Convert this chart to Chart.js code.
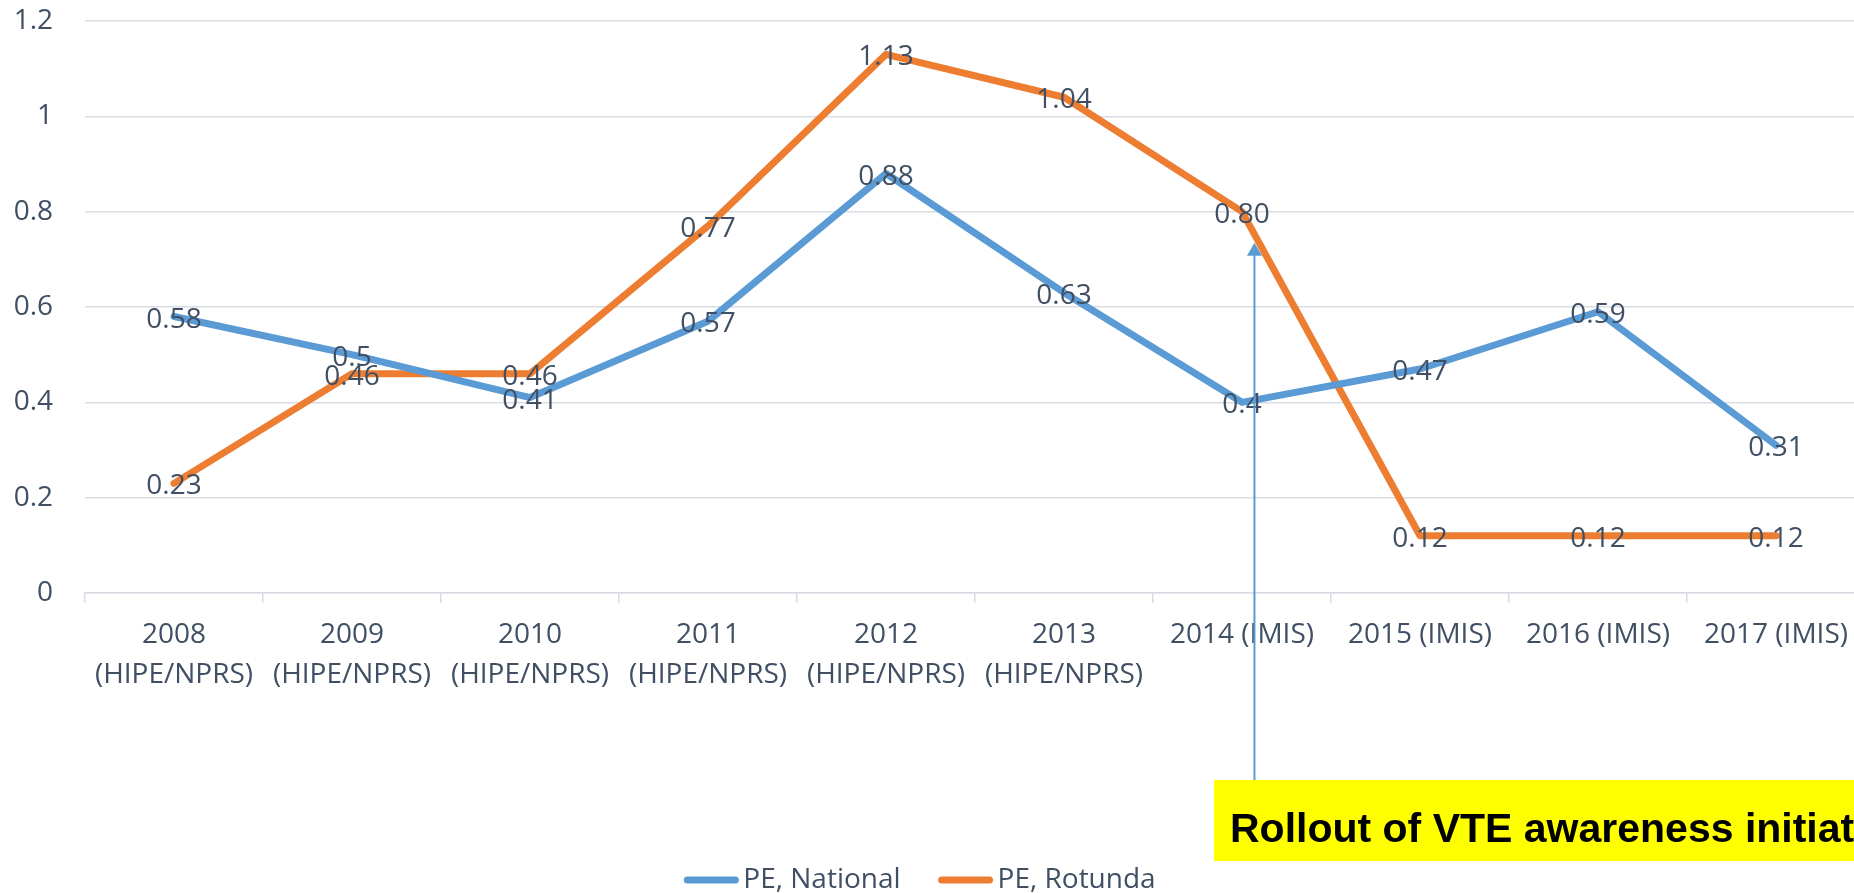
<!DOCTYPE html>
<html>
<head>
<meta charset="utf-8">
<title>PE, National vs PE, Rotunda</title>
<script src="https://cdn.jsdelivr.net/npm/chart.js@4.4.1/dist/chart.umd.min.js"></script>
<style>
  html, body { margin: 0; padding: 0; overflow: hidden; background: #fff; }
  #wrap { position: relative; width: 1880px; height: 893px; }
</style>
</head>
<body>
<div id="wrap"><canvas id="peChart"></canvas></div>
<script>
const years = [
    ['2008', '(HIPE/NPRS)'],
    ['2009', '(HIPE/NPRS)'],
    ['2010', '(HIPE/NPRS)'],
    ['2011', '(HIPE/NPRS)'],
    ['2012', '(HIPE/NPRS)'],
    ['2013', '(HIPE/NPRS)'],
    '2014 (IMIS)',
    '2015 (IMIS)',
    '2016 (IMIS)',
    '2017 (IMIS)'
];
const peNational = [0.58, 0.5, 0.41, 0.57, 0.88, 0.63, 0.4, 0.47, 0.59, 0.31];
const peRotunda = [0.23, 0.46, 0.46, 0.77, 1.13, 1.04, 0.80, 0.12, 0.12, 0.12];
const yTickLabels = ['0', '0.2', '0.4', '0.6', '0.8', '1', '1.2'];

const TEXT = '#404f63';
const GRID = '#d9dde3';
const BLUE = '#5b9bd5';
const ORANGE = '#ed7d31';

// how each series prints its point values
const labelFormats = [v => String(v), v => v.toFixed(2)];

const valueLabels = {
    id: 'valueLabels',
    afterDatasetsDraw(chart) {
        const ctx = chart.ctx;
        ctx.save();
        ctx.font = '28px "Open Sans"';
        ctx.fillStyle = TEXT;
        ctx.textAlign = 'center';
        ctx.textBaseline = 'middle';
        chart.data.datasets.forEach((ds, i) => {
            chart.getDatasetMeta(i).data.forEach((pt, j) => {
                ctx.fillText(labelFormats[i](ds.data[j]), pt.x, pt.y + 3);
            });
        });
        ctx.restore();
    }
};

const bottomLegend = {
    id: 'bottomLegend',
    afterDraw(chart, args, opts) {
        const ctx = chart.ctx;
        ctx.save();
        ctx.font = '28px "Open Sans"';
        ctx.textBaseline = 'middle';
        const items = chart.data.datasets.map(ds => ({
            text: ds.label, color: ds.borderColor, w: ctx.measureText(ds.label).width
        }));
        const total = items.reduce((s, it) => s + opts.lineLen + opts.gap + it.w, 0)
            + opts.spacing * (items.length - 1);
        let x = opts.centerX - total / 2;
        items.forEach(it => {
            ctx.strokeStyle = it.color;
            ctx.lineWidth = 7;
            ctx.lineCap = 'round';
            ctx.beginPath();
            ctx.moveTo(x + 3, opts.y);
            ctx.lineTo(x + opts.lineLen - 3, opts.y);
            ctx.stroke();
            x += opts.lineLen + opts.gap;
            ctx.fillStyle = TEXT;
            ctx.fillText(it.text, x, opts.y);
            x += it.w + opts.spacing;
        });
        ctx.restore();
    }
};

// arrow up to the 2014 point and the yellow note under it
const rolloutNote = {
    id: 'rolloutNote',
    afterDraw(chart, args, opts) {
        const ctx = chart.ctx;
        const xs = chart.scales.x, ys = chart.scales.y;
        const ax = xs.getPixelForValue(opts.arrowAt);
        const tip = ys.getPixelForValue(opts.arrowTop);
        ctx.save();

        ctx.fillStyle = '#ffff00';
        ctx.fillRect(opts.box.left, opts.box.top, chart.width - opts.box.left, opts.box.height);

        ctx.strokeStyle = BLUE;
        ctx.lineWidth = 2;
        ctx.beginPath();
        ctx.moveTo(ax, opts.box.top);
        ctx.lineTo(ax, tip + 12);
        ctx.stroke();
        ctx.fillStyle = BLUE;
        ctx.beginPath();
        ctx.moveTo(ax, tip);
        ctx.lineTo(ax - 7.5, tip + 13);
        ctx.lineTo(ax + 7.5, tip + 13);
        ctx.closePath();
        ctx.fill();

        ctx.fillStyle = '#000';
        ctx.font = 'bold 41px "Liberation Sans"';
        ctx.textBaseline = 'alphabetic';
        ctx.fillText(opts.text, opts.box.left + 16, opts.box.top + 62);
        ctx.restore();
    }
};

new Chart(document.getElementById('peChart'), {
    type: 'line',
    data: {
        labels: years,
        datasets: [{
            label: 'PE, National',
            data: peNational,
            borderColor: BLUE,
            backgroundColor: BLUE,
            borderWidth: 7,
            pointRadius: 0,
            tension: 0,
            borderJoinStyle: 'round',
            borderCapStyle: 'round'
        }, {
            label: 'PE, Rotunda',
            data: peRotunda,
            borderColor: ORANGE,
            backgroundColor: ORANGE,
            borderWidth: 7,
            pointRadius: 0,
            tension: 0,
            borderJoinStyle: 'round',
            borderCapStyle: 'round'
        }]
    },
    options: {
        responsive: true,
        maintainAspectRatio: false,
        animation: false,
        layout: { padding: { top: 21, right: 15, left: 0, bottom: 0 } },
        scales: {
            x: {
                offset: true,
                grid: {
                    offset: true,
                    drawOnChartArea: false,
                    tickLength: 10,
                    color: GRID,
                    lineWidth: 1.5
                },
                border: { color: GRID, width: 1.5 },
                ticks: {
                    color: TEXT,
                    padding: 12,
                    maxRotation: 0,
                    autoSkip: false,
                    font: { family: 'Open Sans', size: 28, lineHeight: 1.43 }
                },
                afterFit(scale) { scale.height = 300; }
            },
            y: {
                min: 0,
                max: 1.2,
                ticks: {
                    stepSize: 0.2,
                    color: TEXT,
                    padding: 32,
                    font: { family: 'Open Sans', size: 28 },
                    callback: (value, index) => yTickLabels[index]
                },
                grid: { color: GRID, lineWidth: 1.5, drawTicks: false },
                border: { display: false },
                afterFit(scale) {
                    scale.width = 85;
                    scale.paddingTop = 0;
                    scale.paddingBottom = 0;
                }
            }
        },
        plugins: {
            legend: { display: false },
            tooltip: { enabled: false },
            bottomLegend: { centerX: 920, y: 880, lineLen: 54, gap: 5, spacing: 38 },
            rolloutNote: {
                arrowAt: 6.07,
                arrowTop: 0.735,
                box: { left: 1214, top: 780, height: 81 },
                text: 'Rollout of VTE awareness initiative'
            }
        }
    },
    plugins: [valueLabels, rolloutNote, bottomLegend]
});
</script>
</body>
</html>
